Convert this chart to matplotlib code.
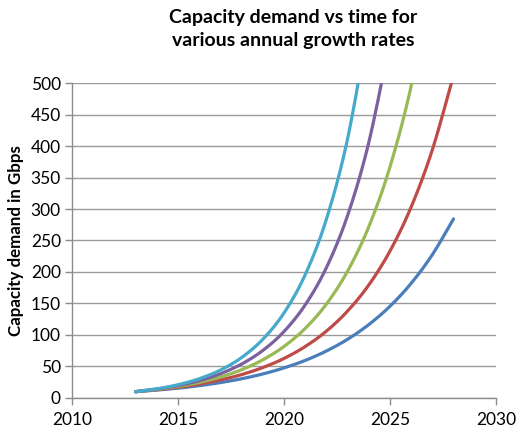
import numpy as np
import matplotlib
matplotlib.use("Agg")
import matplotlib.pyplot as plt

# Yearly capacity demand (Gbps) for each annual growth rate
years = list(range(2013, 2029))
demand_25 = [10, 12.5, 15.6, 19.5, 24.4, 30.5, 38.1, 47.7, 59.6, 74.5,
             93.1, 116.4, 145.5, 181.9, 227.4, 284.2]
demand_30 = [10, 13.0, 16.9, 22.0, 28.6, 37.1, 48.3, 62.7, 81.6, 106.0,
             137.9, 179.2, 233.0, 302.9, 393.7, 511.9]
demand_35 = [10, 13.5, 18.2, 24.6, 33.2, 44.8, 60.5, 81.7, 110.3, 148.9,
             201.1, 271.5, 366.5, 494.8, 668.0]
demand_40 = [10, 14.0, 19.6, 27.4, 38.4, 53.8, 75.3, 105.4, 147.6, 206.6,
             289.3, 405.0, 567.0]
demand_45 = [10, 14.5, 21.0, 30.5, 44.2, 64.1, 93.0, 134.8, 195.4, 283.4,
             410.9, 595.8]

series = [
    (demand_25, "#4A7EBB"),
    (demand_30, "#BE4B48"),
    (demand_35, "#98B954"),
    (demand_40, "#7D60A0"),
    (demand_45, "#46AACB"),
]

x_ticks = [2010, 2015, 2020, 2025, 2030]
y_ticks = list(range(0, 501, 50))


def smooth_path(x, y, n=30):
    """Smoothed line through the points (Catmull-Rom style Bezier segments)."""
    x = np.asarray(x, float)
    y = np.asarray(y, float)
    px = np.concatenate([[x[0]], x, [x[-1]]])
    py = np.concatenate([[y[0]], y, [y[-1]]])
    xs, ys = [], []
    t = np.linspace(0, 1, n)
    for i in range(1, len(px) - 2):
        p0 = np.array([px[i], py[i]])
        p3 = np.array([px[i + 1], py[i + 1]])
        p1 = p0 + (np.array([px[i + 1], py[i + 1]]) - np.array([px[i - 1], py[i - 1]])) / 6
        p2 = p3 - (np.array([px[i + 2], py[i + 2]]) - np.array([px[i], py[i]])) / 6
        b = ((1 - t) ** 3)[:, None] * p0 + (3 * (1 - t) ** 2 * t)[:, None] * p1 \
            + (3 * (1 - t) * t ** 2)[:, None] * p2 + (t ** 3)[:, None] * p3
        xs.append(b[:, 0])
        ys.append(b[:, 1])
    return np.concatenate(xs), np.concatenate(ys)


plt.rcParams["font.family"] = ["Lato", "DejaVu Sans"]

fig = plt.figure(figsize=(5.16, 4.29), dpi=100)
ax = fig.add_axes([0.1395, 0.0723, 0.8215, 0.7342])

for vals, color in series:
    sx, sy = smooth_path(years[:len(vals)], vals)
    ax.plot(sx, sy, color=color, lw=2.3, solid_capstyle="round", zorder=3)

ax.set_xlim(2010, 2030)
ax.set_ylim(0, 500)
ax.set_xticks(x_ticks)
ax.set_yticks(y_ticks)
ax.tick_params(axis="both", labelsize=12.5, labelcolor="#000000", length=5,
               width=1, direction="out", color="#8C8C8C")
ax.tick_params(axis="y", pad=3)
ax.tick_params(axis="x", pad=5)
ax.grid(axis="y", color="#9A9A9A", lw=1)
ax.set_axisbelow(True)
for side in ("top", "right"):
    ax.spines[side].set_visible(False)
for side in ("left", "bottom"):
    ax.spines[side].set_color("#8C8C8C")
    ax.spines[side].set_linewidth(1)

ax.set_ylabel("Capacity demand in Gbps", fontsize=12.2, fontweight="bold",
              labelpad=5)
fig.suptitle("Capacity demand vs time for\nvarious annual growth rates",
             x=0.569, y=0.978, fontsize=14, fontweight="bold",
             linespacing=1.4)

fig.savefig("out.png", dpi=100)
